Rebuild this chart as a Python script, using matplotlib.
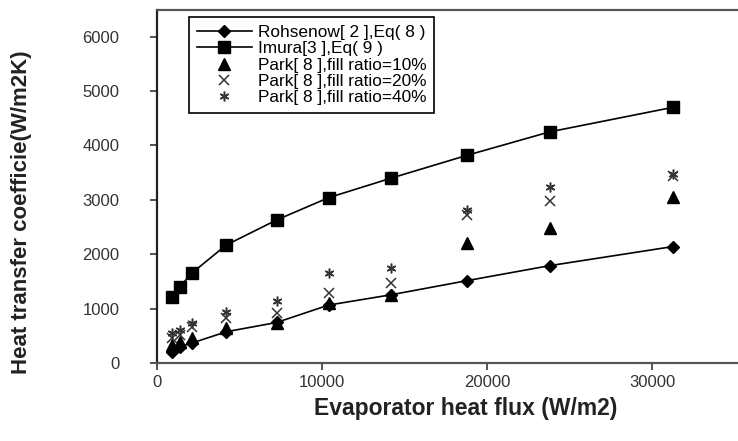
import numpy as np
import matplotlib.pyplot as plt

plt.rcParams['font.family'] = ['Liberation Sans', 'DejaVu Sans']

# evaporator heat flux (W/m2)
flux = [900, 1400, 2100, 4200, 7250, 10400, 14200, 18800, 23800, 31250]

rohsenow = [210, 300, 365, 575, 745, 1065, 1255, 1515, 1790, 2140]
imura = [1220, 1405, 1650, 2170, 2630, 3040, 3400, 3820, 4250, 4700]

park_flux = flux
park10 = [330, 390, 455, 640, 730, 1100, 1250, 2215, 2490, 3060]
park20 = [455, 515, 670, 825, 915, 1295, 1465, 2725, 2970, 3430]
park40 = [545, 610, 730, 945, 1140, 1650, 1755, 2820, 3230, 3480]

labels = ['Rohsenow[ 2 ],Eq( 8 )', 'Imura[3 ],Eq( 9 )',
          'Park[ 8 ],fill ratio=10%', 'Park[ 8 ],fill ratio=20%',
          'Park[ 8 ],fill ratio=40%']

fig = plt.figure(figsize=(7.38, 4.41), dpi=100)
ax = fig.add_axes([157 / 738, 78 / 441, 585.75 / 738, 353.5 / 441])

ax.plot(flux, rohsenow, '-', color='black', lw=1.2, marker='D', ms=6.5,
        mfc='black', mec='black', label=labels[0])
ax.plot(flux, imura, '-', color='black', lw=1.2, marker='s', ms=8,
        mfc='black', mec='black', label=labels[1])
ax.plot(park_flux, park10, ls='none', marker='^', ms=8, color='black',
        label=labels[2])
ax.plot(park_flux, park20, ls='none', marker='x', ms=7, mew=1.1,
        color='#333333', label=labels[3])
ax.plot(park_flux, park40, ls='none', marker=(6, 2, 0), ms=7, mew=1.1,
        color='#333333', label=labels[4])

ax.set_xlim(0, 35500)
ax.set_ylim(0, 6500)
ax.set_xticks(np.arange(0, 30001, 10000))
ax.set_yticks(np.arange(0, 6001, 1000))
ax.tick_params(direction='out', length=5, width=1.3, colors='#444444',
               labelsize=12, labelcolor='#333333')
ax.tick_params(axis='y', pad=22)

for s in ['left', 'bottom', 'top']:
    ax.spines[s].set_linewidth(1.6)
    ax.spines[s].set_color('#555555')
ax.spines['left'].set_color('#222222')
ax.spines['right'].set_visible(False)

ax.set_xlabel('Evaporator heat flux (W/m2)', fontsize=16.5,
              fontweight='bold', color='#222222')
ax.xaxis.label.set(va='center', ha='center')
ax.xaxis.set_label_coords((466 - 157) / 585.75, (363 - 408) / 353.5)
ax.set_ylabel('Heat transfer coefficie(W/m2K)', fontsize=16,
              fontweight='bold', color='#222222')
ax.yaxis.label.set(va='center', ha='center', rotation_mode='default')
ax.yaxis.set_label_coords((22 - 157) / 585.75, (363 - 212) / 353.5)

leg = ax.legend(loc='upper left', bbox_to_anchor=(0.0546, 0.979),
                borderaxespad=0, fontsize=12.4, handlelength=3.2,
                handletextpad=0.35, labelspacing=0.08, borderpad=0.45,
                fancybox=False, framealpha=1, edgecolor='black')
leg.get_frame().set_linewidth(1.2)

fig.savefig('out.png', dpi=100)
